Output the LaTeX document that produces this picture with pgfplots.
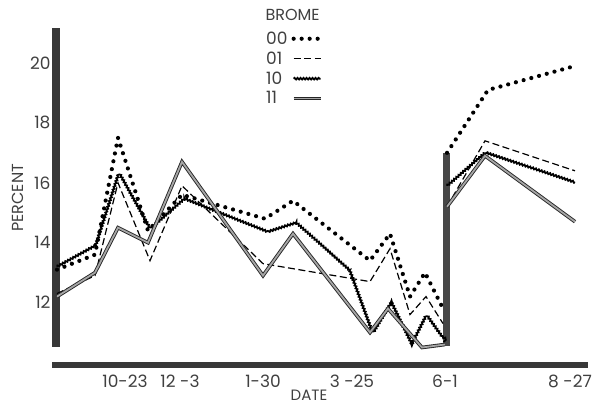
\documentclass[border=0pt]{standalone}
\usepackage{fontspec}
\setmainfont{Poppins}
\usepackage{pgfplots}
\pgfplotsset{compat=1.18}
\usetikzlibrary{decorations.pathmorphing}

\pgfplotstableread{
x y
57 13.1
95 13.6
118 17.5
148 14.4
182 15.6
265 14.8
293 15.4
370 13.4
390 14.3
410 12.2
425 13.0
443 11.8
}\soaa
\pgfplotstableread{
x y
447 17.0
488 19.1
575 19.9
}\sob
\pgfplotstableread{
x y
57 12.3
95 12.9
118 16.0
150 13.4
182 15.9
263 13.3
370 12.7
390 13.8
410 11.6
426 12.2
443 11.3
}\sla
\pgfplotstableread{
x y
447 15.2
485 17.4
575 16.4
}\slb
\pgfplotstableread{
x y
57 13.2
95 13.9
118 16.3
148 14.5
182 15.5
265 14.4
293 14.7
347 13.1
370 11.0
388 12.0
410 10.5
425 11.5
440 10.8
445 10.7
}\loa
\pgfplotstableread{
x y
447 15.9
485 17.0
575 16.0
}\lob
\pgfplotstableread{
x y
57 12.2
95 13.0
118 14.5
148 14.0
182 16.7
263 12.9
293 14.3
370 11.0
388 11.8
422 10.5
445 10.6
}\lla
\pgfplotstableread{
x y
447 15.2
485 16.9
575 14.7
}\llb

\begin{document}
\begin{tikzpicture}
\begin{axis}[
  scale only axis, width=540pt, height=350.4pt,
  xmin=50, xmax=590, ymin=9.8, ymax=21.5,
  axis line style={draw=none}, major tick length=0pt,
  clip=false,
  ytick={12,14,16,18,20},
  xtick={125,180,263,352,445,570},
  xticklabels={10-23,12 -3,1-30,3 -25,6-1,8 -27},
  ticklabel style={font=\fontsize{17}{17}\selectfont, text=black!75},
  /pgf/number format/assume math mode=true,
  yticklabel style={xshift=4pt},
  xticklabel style={yshift=-3pt},
  legend plot pos=right,
  legend cell align=left,
  legend image code/.code={\draw[#1] (0pt,0pt) -- (27pt,0pt);},
  legend style={at={(axis cs:262,21.15)}, anchor=north west, draw=none, fill=none,
    font=\fontsize{17}{17}\selectfont, text=black!75, row sep=4pt, column sep=3pt,
    nodes={inner sep=1pt}},
]
% axis bars
\addplot[forget plot, line width=7.5pt, black!78] coordinates {(56,10.52) (56,21.17)};
\addplot[forget plot, line width=6pt, black!78] coordinates {(52,9.92) (588,9.92)};
\addplot[forget plot, line width=7pt, black!72] coordinates {(446,10.55) (446,17.0)};
% series
\addplot[black, line width=4.2pt, line cap=round, dash pattern=on 0pt off 8pt] table {\soaa};
\addlegendentry{00}
\addplot[black, line width=1.2pt, dash pattern=on 7pt off 3.5pt] table {\sla};
\addlegendentry{01}
\addplot[black, line width=1.8pt, decorate, decoration={snake, amplitude=0.8pt, segment length=3pt}] table {\loa};
\addlegendentry{10}
\addplot[black!85, line width=0.9pt, double=black!35, double distance=1.8pt] table {\lla};
\addlegendentry{11}
\addplot[forget plot, black, line width=4.2pt, line cap=round, dash pattern=on 0pt off 8pt] table {\sob};
\addplot[forget plot, black, line width=1.2pt, dash pattern=on 7pt off 3.5pt] table {\slb};
\addplot[forget plot, black, line width=1.8pt, decorate, decoration={snake, amplitude=0.8pt, segment length=3pt}] table {\lob};
\addplot[forget plot, black!85, line width=0.9pt, double=black!35, double distance=1.8pt] table {\llb};
% texts
\node[anchor=west, font=\fontsize{16}{16}\selectfont, text=black!75] at (axis cs:262,21.6) {BROME};
\node[rotate=90, font=\fontsize{16}{16}\selectfont, text=black!75] at (axis cs:18,15.5) {PERCENT};
\node[font=\fontsize{15}{15}\selectfont, text=black!75] at (axis cs:309,8.9) {DATE};
\coordinate (bbl) at (axis cs:0,8.547);
\coordinate (btr) at (axis cs:599,22.103);
\end{axis}
\pgfresetboundingbox
\path[use as bounding box] (bbl) rectangle (btr);
\end{tikzpicture}
\end{document}
